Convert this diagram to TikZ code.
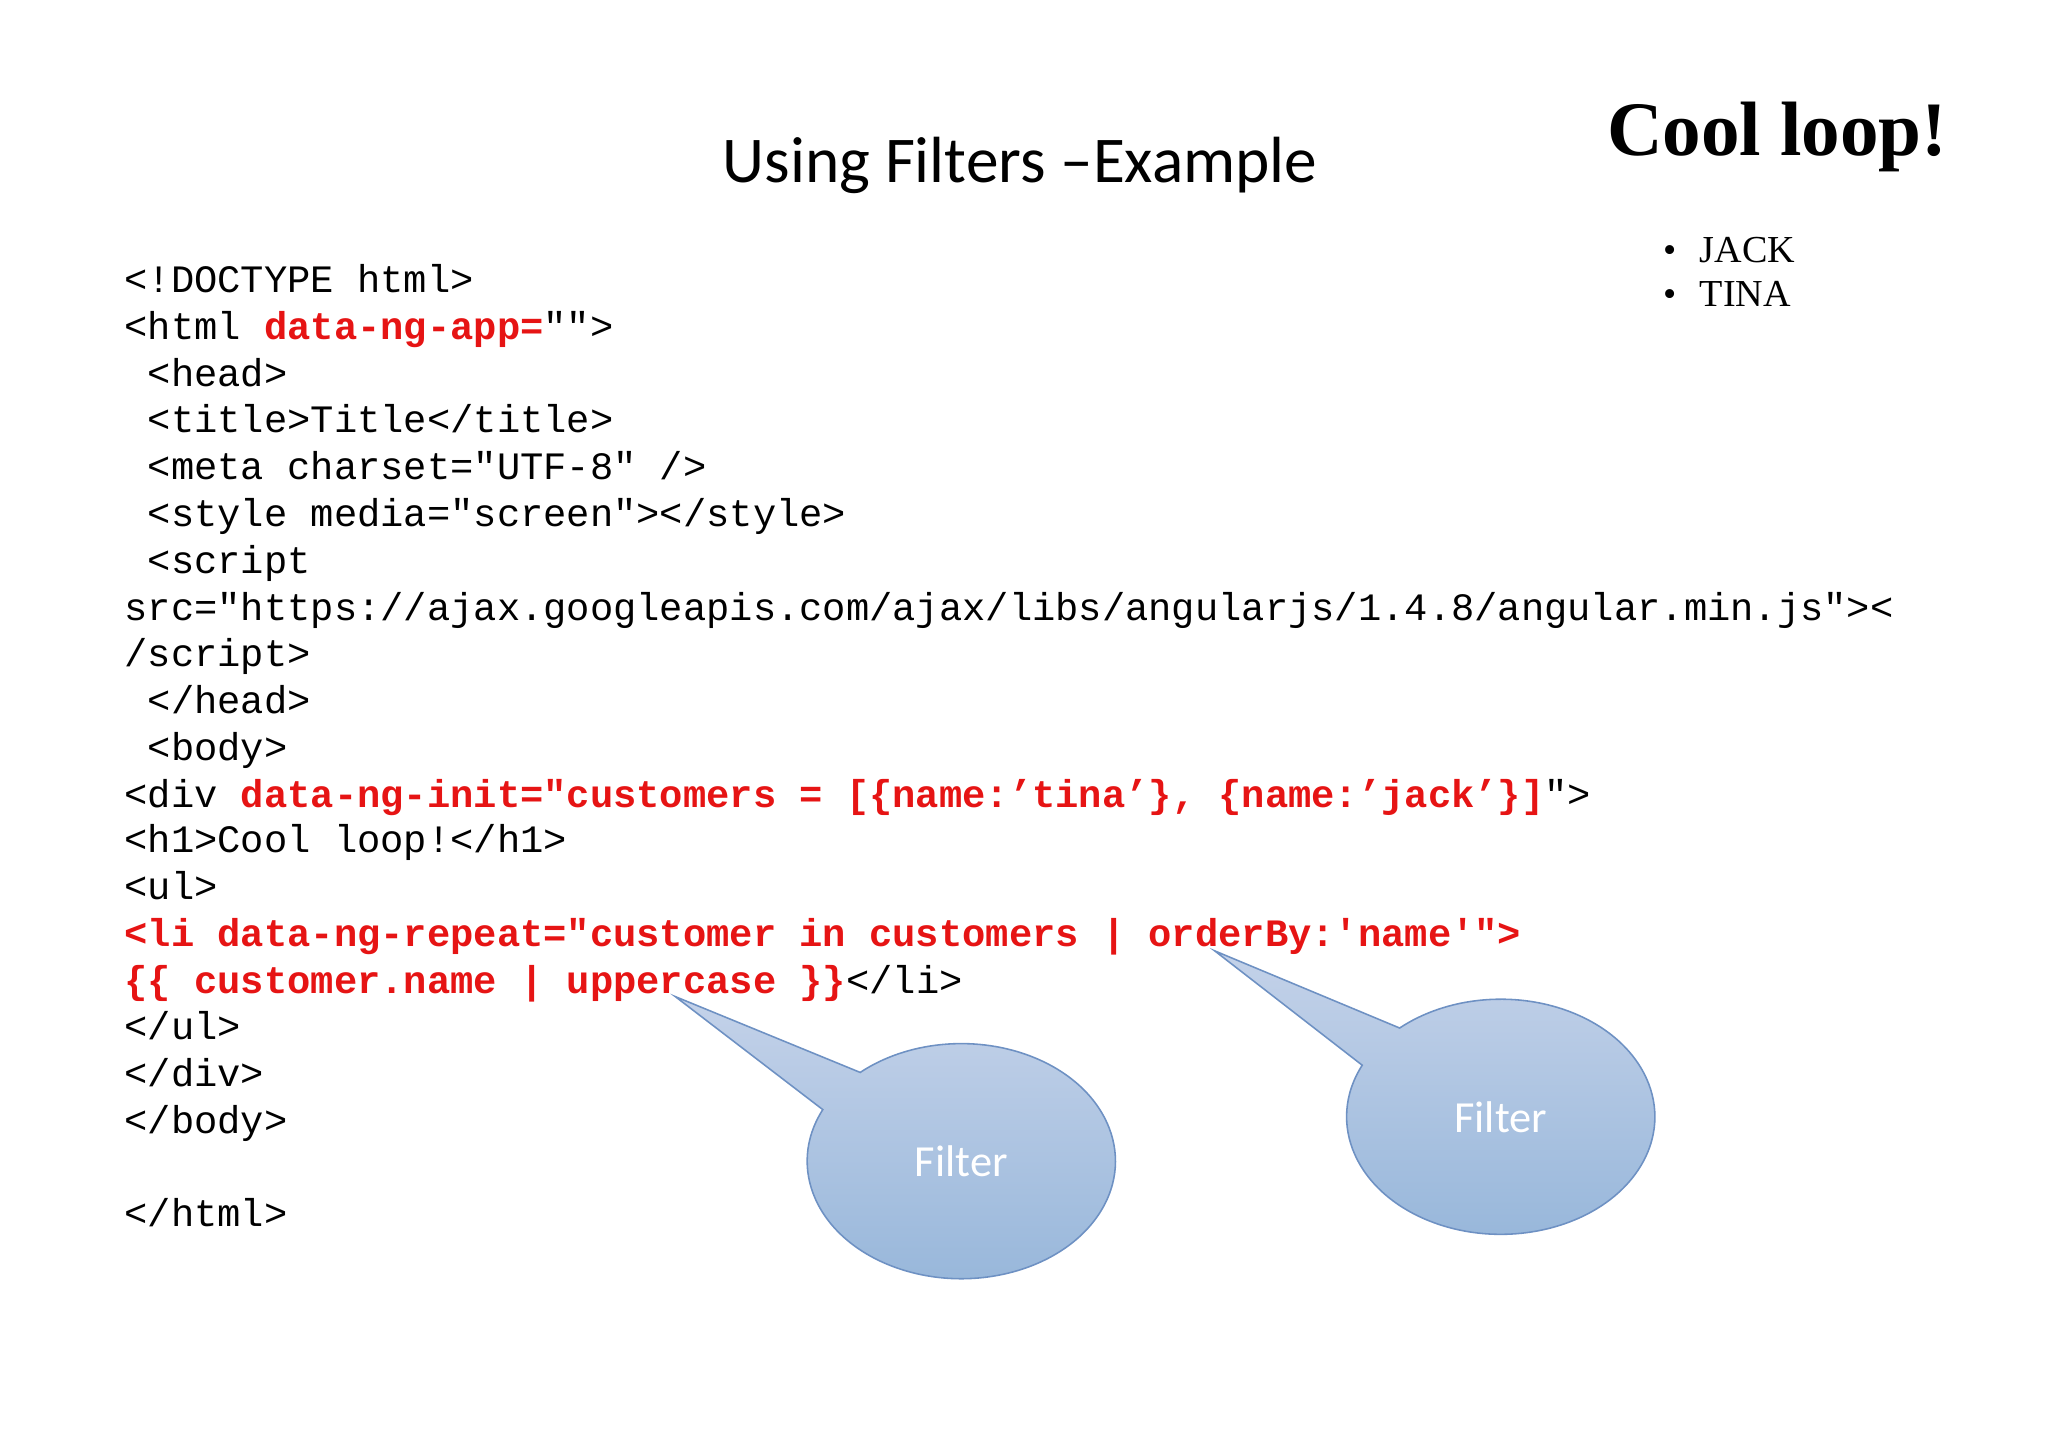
\documentclass[tikz,border=0pt]{standalone}
\usepackage{fontspec}
\setmonofont{Liberation Mono}
\newfontfamily\titlefont{Carlito}
\newfontfamily\pagefont{Liberation Serif}
\usetikzlibrary{calc}
\definecolor{codered}{RGB}{230,20,20}
\definecolor{bubbletop}{RGB}{196,210,233}
\definecolor{bubblebot}{RGB}{150,182,218}
\definecolor{bubbleline}{RGB}{110,145,195}
\tikzset{
  code/.style={anchor=base west,inner sep=0pt,font=\fontsize{14.85}{16}\ttfamily},
  bubble/.style={draw=bubbleline,line width=0.6pt,top color=bubbletop,bottom color=bubblebot},
  bubbletext/.style={text=white,font=\fontsize{17}{19}\titlefont}
}
\newcommand{\rd}[1]{\textcolor{codered}{\bfseries #1}}
\newcommand{\callout}[3]{%
  \draw [bubble] ($(#1)+(229:118 and 90)$) -- (#2) -- ($(#1)+(206:118 and 90)$)
    arc [start angle=206,end angle=-131,x radius=118,y radius=90] -- cycle;
  \node [bubbletext] (#3) at (#1) {Filter};}
\begin{document}
\begin{tikzpicture}[x=0.5pt,y=0.5pt,yscale=-1,xscale=1]
\useasboundingbox (0,0) rectangle (1568,1108);

% Title
\node [font=\fontsize{25}{29}\titlefont] (title) at (781,127) {Using Filters –Example};

% Rendered page
\node [anchor=base west,inner sep=0pt,font=\fontsize{29.5}{31}\pagefont\bfseries] (cool) at (1230,119) {Cool loop!};
\node [anchor=base west,inner sep=0pt,font=\fontsize{14.6}{16}\pagefont] (jack) at (1273,201) {{\Large\textbullet}\hspace{9pt}JACK};
\node [anchor=base west,inner sep=0pt,font=\fontsize{14.6}{16}\pagefont] (tina) at (1273,235) {{\Large\textbullet}\hspace{9pt}TINA};

% Code
\node [code] (l0) at (95,224) {<!DOCTYPE html>};
\node [code] (l1) at (95,260) {<html \rd{data-ng-app=}"">};
\node [code] (l2) at (95,296) {~<head>};
\node [code] (l3) at (95,331) {~<title>Title</title>};
\node [code] (l4) at (95,367) {~<meta charset="UTF-8" />};
\node [code] (l5) at (95,403) {~<style media="screen"></style>};
\node [code] (l6) at (95,439) {~<script};
\node [code] (l7) at (95,475) {src="https://ajax.googleapis.com/ajax/libs/angularjs/1.4.8/angular.min.js"><};
\node [code] (l8) at (95,510) {/script>};
\node [code] (l9) at (95,546) {~</head>};
\node [code] (l10) at (95,582) {~<body>};
\node [code] (l11) at (95,618) {<div \rd{data-ng-init="customers = [\{name:’tina’\}, \{name:’jack’\}]}">};
\node [code] (l12) at (95,653) {<h1>Cool loop!</h1>};
\node [code] (l13) at (95,689) {<ul>};
\node [code] (l14) at (95,725) {\rd{<li data-ng-repeat="customer in customers | orderBy:\textquotesingle name\textquotesingle">}};
\node [code] (l15) at (95,761) {\rd{\{\{ customer.name | uppercase \}\}}</li>};
\node [code] (l16) at (95,796) {</ul>};
\node [code] (l17) at (95,832) {</div>};
\node [code] (l18) at (95,868) {</body>};
\node [code] (l20) at (95,939) {</html>};

% Callouts
\coordinate (c1) at (736,889);
\coordinate (t1) at (517,763);
\coordinate (c2) at (1149,855);
\coordinate (t2) at (930,728);
\callout{c1}{t1}{f1}
\callout{c2}{t2}{f2}

\end{tikzpicture}
\end{document}
